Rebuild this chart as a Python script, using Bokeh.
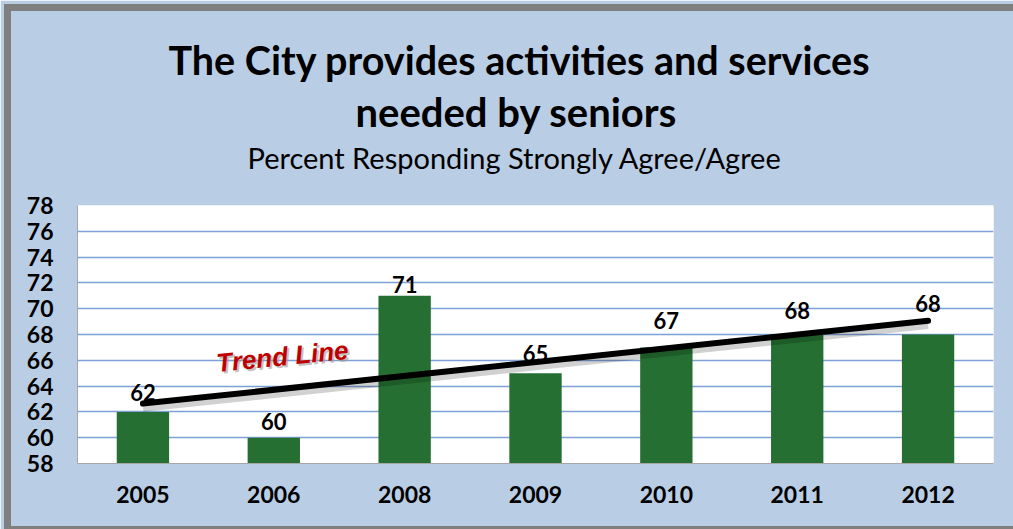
import numpy as np
from bokeh.plotting import figure
from bokeh.models import FactorRange, Range1d, FixedTicker, Title, Label, InlineStyleSheet
from bokeh.core.properties import value
from bokeh.embed import file_html
from bokeh.resources import INLINE

# ---- data ----
years = ["2005", "2006", "2008", "2009", "2010", "2011", "2012"]
percent = [62, 60, 71, 65, 67, 68, 68]
y_ticks = [58, 60, 62, 64, 66, 68, 70, 72, 74, 76, 78]
title_lines = ["The City provides activities and services", "needed by seniors"]
subtitle = "Percent Responding Strongly Agree/Agree"

# ---- style ----
label_lift = [19, 16, 11, 20, 27, 24, 31]   # px above bar top (manual label nudges)
FONT = "Lato"
BAR = "#246F31"
BG = "#B9CDE5"

p = figure(x_range=FactorRange(*years, range_padding=0), y_range=Range1d(58, 78),
           width=1013, height=529, output_backend="svg", toolbar_location=None,
           min_border_left=77, min_border_right=20, min_border_top=205, min_border_bottom=66)
p.stylesheets = [InlineStyleSheet(css="""
:host { position: relative; }
:host::after {
  content: ""; position: absolute; left: 4px; top: 4px; width: 1009px; height: 525px;
  box-sizing: border-box; border-top: 7px solid #7F7F7F; border-left: 7px solid #7F7F7F;
  border-bottom: 3px solid #7F7F7F; pointer-events: none; z-index: 100;
}
""")]

p.background_fill_color = "white"
p.border_fill_color = BG
p.outline_line_color = None

p.vbar(x=years, top=percent, bottom=58, width=0.4, color=BAR, line_color=None)

# trend line (least squares over the bars)
idx = np.arange(len(percent))
slope, icpt = np.polyfit(idx, percent, 1)
tx = [idx[0] + 0.5, idx[-1] + 0.5]
ty = [icpt + slope * idx[0], icpt + slope * idx[-1]]
p.line(x=tx, y=[v - 0.25 for v in ty], line_color="#000000", line_alpha=0.18, line_width=10)
p.line(x=tx, y=ty, line_color="black", line_width=6, line_cap="round")

p.text(x=years, y=percent, text=[str(v) for v in percent],
       y_offset=[-l for l in label_lift], text_align="center", text_baseline="middle",
       text_font=value(FONT), text_font_style="bold", text_font_size="22px", text_color="black")

for dx, dy, col in [(2, -2, "#9a9a9a"), (0, 0, "#C00000")]:
    p.add_layout(Label(x=1.565, y=66.3, x_offset=dx, y_offset=dy, text="Trend Line", angle=0.1,
                       text_align="center", text_baseline="middle", text_font="Liberation Sans",
                       text_font_style="bold italic", text_font_size="26px", text_color=col,
                       text_alpha=0.6 if col != "#C00000" else 1.0))

# titles (first added sits closest to the plot)
p.add_layout(Title(text=subtitle, align="left", offset=170,
                   text_font=FONT, text_font_style="normal", text_font_size="29px",
                   text_color="black", standoff=62), "above")
p.add_layout(Title(text=title_lines[1], align="left", offset=278,
                   text_font=FONT, text_font_style="bold", text_font_size="40px",
                   text_color="black", standoff=-58), "above")
p.add_layout(Title(text=title_lines[0], align="left", offset=91,
                   text_font=FONT, text_font_style="bold", text_font_size="39.5px",
                   text_color="black", standoff=48), "above")

p.yaxis.ticker = FixedTicker(ticks=y_ticks)
p.yaxis.major_tick_line_color = None
p.yaxis.minor_tick_line_color = None
p.yaxis.major_tick_out = 0
p.yaxis.major_label_standoff = 24
p.yaxis.axis_line_color = "#A6A6A6"
p.yaxis.major_label_text_font = FONT
p.yaxis.major_label_text_font_style = "bold"
p.yaxis.major_label_text_font_size = "23px"
p.yaxis.major_label_text_color = "black"

p.xaxis.major_tick_line_color = None
p.xaxis.major_tick_out = 0
p.xaxis.major_label_standoff = 22
p.xaxis.axis_line_color = "#A6A6A6"
p.xaxis.major_label_text_font = FONT
p.xaxis.major_label_text_font_style = "bold"
p.xaxis.major_label_text_font_size = "23px"
p.xaxis.major_label_text_color = "black"

p.xgrid.grid_line_color = None
p.ygrid.grid_line_color = "#7EA0D4"
p.ygrid.grid_line_width = 1.3

open("out.html", "w").write(file_html(p, INLINE))
